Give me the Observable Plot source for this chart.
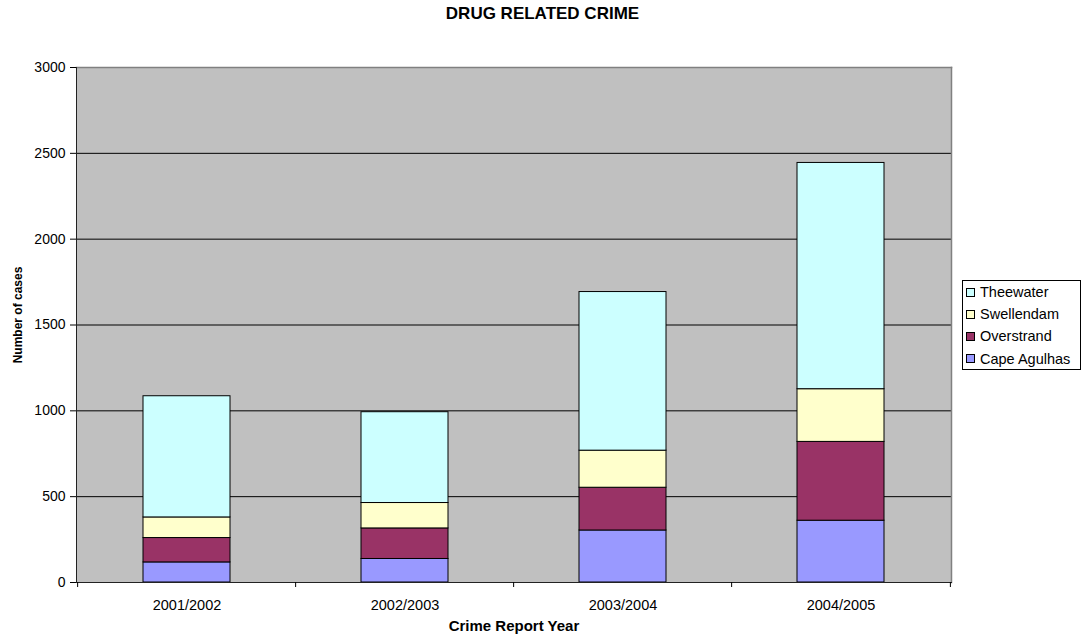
<!DOCTYPE html>
<html>
<head>
<meta charset="utf-8">
<script src="https://cdn.jsdelivr.net/npm/d3@7"></script>
<script src="https://cdn.jsdelivr.net/npm/@observablehq/plot@0.6"></script>
<style>
  body { margin: 0; background: #fff; font-family: "Liberation Sans", Arial, sans-serif; }
  #chart { position: relative; width: 1085px; height: 640px; }
  #title { position: absolute; top: 4px; left: 0; width: 1085px; text-align: center;
           font-weight: bold; font-size: 17px; line-height: 20px; color: #000; }
  #legend { position: absolute; left: 962px; top: 280px; width: 119px; height: 90px;
            border: 1px solid #000; box-sizing: border-box; background: #fff; padding-top: 0; }
  .item { height: 22.2px; display: flex; align-items: center; font-size: 14.5px; color: #000; }
  .swatch { width: 7px; height: 7px; border: 1px solid #000; margin-left: 3px; margin-right: 5px; flex: none; }
  #plot { position: absolute; left: 0; top: 0; }
</style>
</head>
<body>
<div id="chart">
  <div id="plot"></div>
  <div id="title">DRUG RELATED CRIME</div>
  <div id="legend"></div>
</div>
<script>
// Drug related crime cases per police station area, by report year
const years = ["2001/2002", "2002/2003", "2003/2004", "2004/2005"];
const seriesNames = ["Cape Agulhas", "Overstrand", "Swellendam", "Theewater"];
const capeAgulhas = [117, 137, 303, 360];
const overstrand = [142, 178, 249, 459];
const swellendam = [120, 148, 216, 307];
const theewater = [706, 529, 924, 1318];
const seriesColors = ["#9999ff", "#993366", "#ffffcc", "#ccffff"];
const yTicks = [0, 500, 1000, 1500, 2000, 2500, 3000];
const gridValues = [500, 1000, 1500, 2000, 2500];

// Long-format rows, stacked bottom-up in series order
const seriesValues = [capeAgulhas, overstrand, swellendam, theewater];
const rows = years.flatMap((year, i) =>
  seriesNames.map((series, j) => ({year, series, cases: seriesValues[j][i]}))
);

const W = 1085, H = 640, mL = 76, mR = 134, mT = 67, mB = 58;
const step = (W - mL - mR) / years.length;

const chart = Plot.plot({
  width: W,
  height: H,
  marginLeft: mL,
  marginRight: mR,
  marginTop: mT,
  marginBottom: mB,
  style: {fontFamily: "'Liberation Sans', Arial, sans-serif", fontSize: "14px", color: "#000", background: "transparent"},
  x: {domain: years, paddingInner: 0.6, paddingOuter: 0.3, label: null},
  y: {domain: [0, 3000], ticks: yTicks, label: null},
  color: {domain: seriesNames, range: seriesColors},
  marks: [
    Plot.frame({fill: "#c0c0c0", stroke: "none"}),
    Plot.ruleY(gridValues, {stroke: "#000", strokeWidth: 1}),
    Plot.barY(rows, {x: "year", y: "cases", fill: "series", stroke: "#000", strokeWidth: 1}),
    Plot.frame({anchor: "top", stroke: "#808080", strokeWidth: 1.5}),
    Plot.frame({anchor: "right", stroke: "#808080", strokeWidth: 1.5}),
    Plot.frame({anchor: "left", stroke: "#222"}),
    Plot.frame({anchor: "bottom", stroke: "#222"}),
    Plot.axisY({ticks: yTicks, tickSize: 6, tickPadding: 5, fontSize: 14, tickFormat: d => String(d), label: null}),
    Plot.axisX({tickSize: 0, tickPadding: 17, fontSize: 14.5, label: null}),
    // category separator ticks below the baseline
    Plot.axisX(years, {tickSize: 5, dx: -step / 2, tickFormat: () => "", label: null}),
    Plot.axisX([years[years.length - 1]], {tickSize: 5, dx: step / 2, tickFormat: () => "", label: null}),
    Plot.text(["Crime Report Year"], {frameAnchor: "bottom", dy: 48, fontWeight: "bold", fontSize: 15}),
    Plot.text(["Number of cases"], {frameAnchor: "left", textAnchor: "middle", dx: -58, dy: -10, rotate: -90, fontWeight: "bold", fontSize: 12})
  ]
});
document.getElementById("plot").appendChild(chart);

// Legend: top entry is the top of the stack
const legend = document.getElementById("legend");
seriesNames.map((name, i) => ({name, color: seriesColors[i]})).reverse().forEach(({name, color}) => {
  const item = document.createElement("div");
  item.className = "item";
  const sw = document.createElement("span");
  sw.className = "swatch";
  sw.style.background = color;
  const label = document.createElement("span");
  label.textContent = name;
  item.appendChild(sw);
  item.appendChild(label);
  legend.appendChild(item);
});
</script>
</body>
</html>
